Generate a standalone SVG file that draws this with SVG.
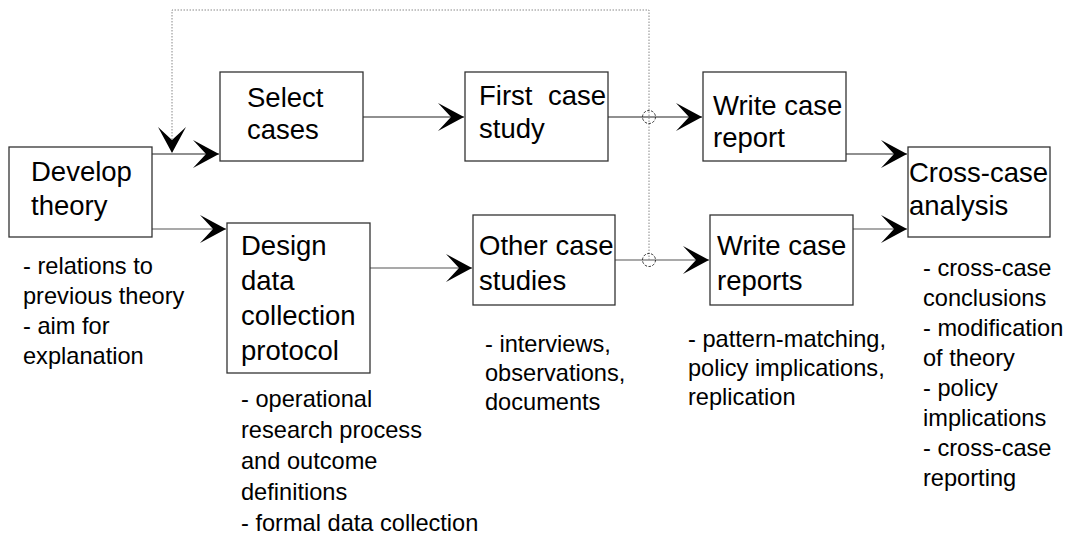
<svg xmlns="http://www.w3.org/2000/svg" width="1067" height="538" viewBox="0 0 1067 538">
<style>
.box{fill:#fff;stroke:#333;stroke-width:1.3}
.t{font-family:"Liberation Sans",Arial,sans-serif;font-size:27.5px;fill:#000}
.a{font-family:"Liberation Sans",Arial,sans-serif;font-size:23.6px;fill:#000}
.c{fill:none;stroke:#222;stroke-width:1.2}
.cg{fill:none;stroke:#555;stroke-width:1.2}
.dot{fill:none;stroke:#888;stroke-width:1;stroke-dasharray:1.5 1.5}
.hop{fill:none;stroke:#333;stroke-width:1;stroke-dasharray:2.5 1.5}
</style>
<defs>
<marker id="arr" markerUnits="userSpaceOnUse" markerWidth="27" markerHeight="29" refX="26" refY="14.5" orient="auto" viewBox="0 0 27 29">
<path d="M26,14.5 L0,0.5 L13,14.5 L0,28.5 Z" fill="#000"/>
</marker>
</defs>
<rect width="1067" height="538" fill="#fff"/>
<g id="connectors">
<path class="c" d="M152,154 H219" marker-end="url(#arr)"/>
<path class="cg" d="M152,229 H226" marker-end="url(#arr)"/>
<path class="c" d="M363,117 H464" marker-end="url(#arr)"/>
<path class="cg" d="M370,268 H472" marker-end="url(#arr)"/>
<path class="c" d="M608,117 H702" marker-end="url(#arr)"/>
<path class="cg" d="M615,260 H709" marker-end="url(#arr)"/>
<path class="c" d="M846,154 H907" marker-end="url(#arr)"/>
<path class="cg" d="M853,229 H907" marker-end="url(#arr)"/>
<path class="dot" d="M649,260 V10 H172 V153" marker-end="url(#arr)"/>
<circle class="hop" cx="649" cy="117" r="6.5"/>
<circle class="hop" cx="649" cy="260" r="6.5"/>
</g>
<g id="develop">
<rect class="box" x="9" y="147" width="143" height="90"/>
<text class="t" x="31" y="181">Develop</text>
<text class="t" x="31" y="215">theory</text>
<text class="a" x="23"><tspan x="23" y="274">- relations to</tspan><tspan x="23" y="304">previous theory</tspan><tspan x="23" y="334">- aim for</tspan><tspan x="23" y="364">explanation</tspan></text>
</g>
<g id="select">
<rect class="box" x="220" y="72" width="143" height="89"/>
<text class="t" x="247" y="107">Select</text>
<text class="t" x="247" y="139">cases</text>
</g>
<g id="design">
<rect class="box" x="227" y="223" width="143" height="150"/>
<text class="t"><tspan x="241" y="255">Design</tspan><tspan x="241" y="290">data</tspan><tspan x="241" y="325">collection</tspan><tspan x="241" y="360">protocol</tspan></text>
<text class="a"><tspan x="241" y="407">- operational</tspan><tspan x="241" y="438">research process</tspan><tspan x="241" y="469">and outcome</tspan><tspan x="241" y="500">definitions</tspan><tspan x="241" y="531">- formal data collection</tspan></text>
</g>
<g id="first">
<rect class="box" x="465" y="72" width="143" height="89"/>
<text class="t"><tspan x="479" y="105">First</tspan><tspan x="548" y="105">case</tspan><tspan x="479" y="138">study</tspan></text>
</g>
<g id="other">
<rect class="box" x="473" y="215" width="142" height="90"/>
<text class="t"><tspan x="479" y="255">Other case</tspan><tspan x="479" y="290">studies</tspan></text>
<text class="a"><tspan x="485" y="352">- interviews,</tspan><tspan x="485" y="381">observations,</tspan><tspan x="485" y="410">documents</tspan></text>
</g>
<g id="report">
<rect class="box" x="703" y="72" width="143" height="89"/>
<text class="t"><tspan x="713" y="115">Write case</tspan><tspan x="713" y="147">report</tspan></text>
</g>
<g id="reports">
<rect class="box" x="710" y="215" width="143" height="90"/>
<text class="t"><tspan x="717" y="255">Write case</tspan><tspan x="717" y="290">reports</tspan></text>
<text class="a"><tspan x="688" y="347">- pattern-matching,</tspan><tspan x="688" y="376">policy implications,</tspan><tspan x="688" y="405">replication</tspan></text>
</g>
<g id="cross">
<rect class="box" x="908" y="147" width="142" height="90"/>
<text class="t"><tspan x="909" y="182">Cross-case</tspan><tspan x="909" y="215">analysis</tspan></text>
<text class="a"><tspan x="923" y="276">- cross-case</tspan><tspan x="923" y="306">conclusions</tspan><tspan x="923" y="336">- modification</tspan><tspan x="923" y="366">of theory</tspan><tspan x="923" y="396">- policy</tspan><tspan x="923" y="426">implications</tspan><tspan x="923" y="456">- cross-case</tspan><tspan x="923" y="486">reporting</tspan></text>
</g>
</svg>
